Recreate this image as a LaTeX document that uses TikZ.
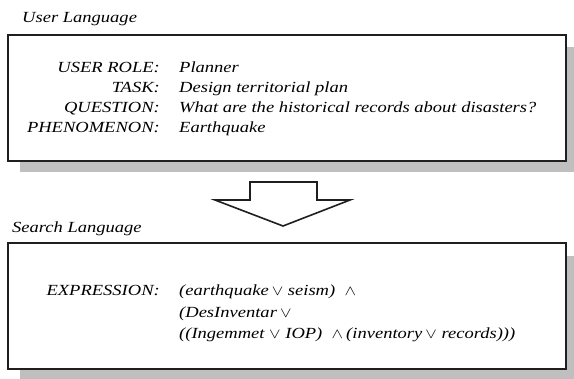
\documentclass[tikz,border=0pt]{standalone}
\usepackage{fontspec}
\setmainfont{Liberation Serif}
% text is set slightly wide
\newcommand\widetxt[1]{\scalebox{1.2}[1]{#1}}
% logical connectives, a little smaller than the text
\newcommand\opor{{\fontsize{14}{14}\selectfont$\vee$}}
\newcommand\opand{{\fontsize{14}{14}\selectfont$\wedge$}}
\begin{document}
\begin{tikzpicture}[x=1bp,y=-1bp,
  panel/.style={draw=black!88,line width=2bp,fill=white},
  shade/.style={fill=black!25,draw=none},
  caption/.style={anchor=base west,inner sep=0pt,font=\fontsize{15.5}{18}\selectfont\itshape},
  key/.style={anchor=base east,inner sep=0pt,font=\fontsize{15.5}{18}\selectfont\itshape},
  val/.style={anchor=base west,inner sep=0pt,font=\fontsize{15.5}{18}\selectfont\itshape},
  blockarrow/.style={draw=black!88,line width=1.6bp,fill=white,line join=miter}]
\useasboundingbox (0,0) rectangle (574,378);

% upper panel: user language
\node[caption] (ulcap) at (22,22) {\widetxt{User Language}};
\fill[shade] (20,47) rectangle (578,172);
\draw[panel] (8,35) rectangle (566,161);
\node[key] (k1) at (160,72) {\widetxt{USER ROLE:}};
\node[key] (k2) at (160,92) {\widetxt{TASK:}};
\node[key] (k3) at (160,112) {\widetxt{QUESTION:}};
\node[key] (k4) at (160,132) {\widetxt{PHENOMENON:}};
\node[val] (v1) at (179,72) {\widetxt{Planner}};
\node[val] (v2) at (179,92) {\widetxt{Design territorial plan}};
\node[val] (v3) at (179,112) {\widetxt{What are the historical records about disasters?}};
\node[val] (v4) at (179,132) {\widetxt{Earthquake}};

% translation arrow
\draw[blockarrow] (250,182) -- (317,182) -- (317,200) -- (350,200) -- (283,226)
  -- (215,200) -- (250,200) -- cycle;

% lower panel: search language
\node[caption] (slcap) at (12,232) {\widetxt{Search Language}};
\fill[shade] (20,256) rectangle (578,382);
\draw[panel] (8,243) rectangle (566,369);
\node[key] (k5) at (160,295) {\widetxt{EXPRESSION:}};
\node[val] (e1) at (179,295) {\widetxt{(earthquake\,\opor\ seism)\ \ \opand}};
\node[val] (e2) at (179,317) {\widetxt{(DesInventar\,\opor}};
\node[val] (e3) at (179,338) {\widetxt{((Ingemmet\ \opor\ IOP)\ \ \opand\,(inventory\,\opor\ records)))}};
\end{tikzpicture}
\end{document}
